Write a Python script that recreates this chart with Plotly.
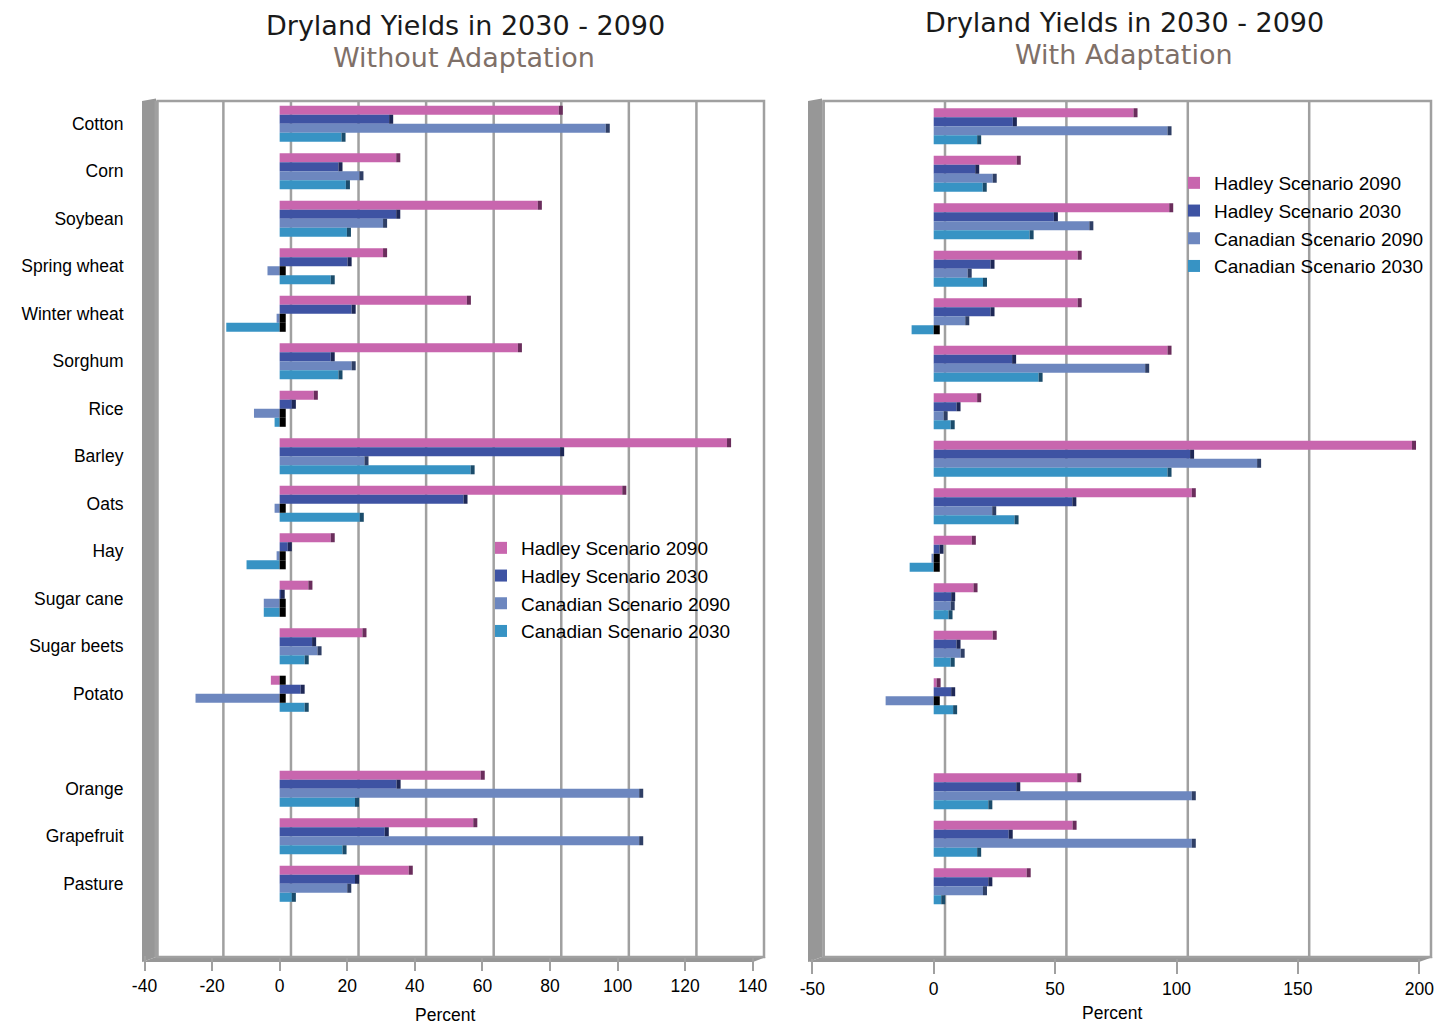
import plotly.graph_objects as go

# ---- data -------------------------------------------------------------
crops = ["Cotton", "Corn", "Soybean", "Spring wheat", "Winter wheat", "Sorghum",
         "Rice", "Barley", "Oats", "Hay", "Sugar cane", "Sugar beets", "Potato",
         "Orange", "Grapefruit", "Pasture"]

series_names = ["Hadley Scenario 2090", "Hadley Scenario 2030",
                "Canadian Scenario 2090", "Canadian Scenario 2030"]

# percent change in dryland yields, without adaptation
hadley_2090_without = [82.6, 34.5, 76.4, 30.6, 55.4, 70.5, 10.1, 132.4, 101.4, 15.1, 8.5, 24.5, -2.6, 59.5, 57.3, 38.2]
hadley_2030_without = [32.4, 17.4, 34.5, 20.1, 21.3, 15.1, 3.6, 83.0, 54.4, 2.4, 0.3, 9.6, 6.2, 34.6, 31.1, 22.3]
canadian_2090_without = [96.5, 23.6, 30.6, -3.6, -0.9, 21.3, -7.6, 25.1, -1.5, -0.9, -4.7, 11.2, -24.9, 106.4, 106.4, 20.0]
canadian_2030_without = [18.3, 19.6, 19.9, 15.1, -15.8, 17.4, -1.5, 56.5, 23.7, -9.8, -4.7, 7.4, 7.4, 22.3, 18.6, 3.6]

# percent change in dryland yields, with adaptation
hadley_2090_with = [82.3, 34.2, 97.0, 59.3, 59.3, 96.3, 17.9, 197.0, 106.3, 15.7, 16.4, 24.3, 1.2, 59.1, 57.2, 38.3]
hadley_2030_with = [32.6, 17.1, 49.5, 23.4, 23.4, 32.3, 9.4, 105.6, 57.1, 2.4, 7.2, 9.4, 7.2, 34.0, 30.9, 22.5]
canadian_2090_with = [96.3, 24.3, 64.1, 14.0, 13.0, 87.1, 4.1, 133.2, 24.1, -0.9, 7.0, 11.1, -19.8, 106.3, 106.3, 20.3]
canadian_2030_with = [17.9, 20.2, 39.5, 20.3, -9.1, 43.2, 7.0, 96.3, 33.3, -9.9, 6.1, 7.0, 8.0, 22.5, 17.9, 3.1]

left_ticks = [-40, -20, 0, 20, 40, 60, 80, 100, 120, 140]
right_ticks = [-50, 0, 50, 100, 150, 200]

# ---- styling ----------------------------------------------------------
W, H = 1440, 1025
face_colors = ["#C866AE", "#3E53A3", "#6D87BF", "#3793C4"]
side_colors = ["#6A2D5C", "#1E2856", "#2F3F66", "#1B4C6B"]
GRAY = "#A0A0A0"
WALL = "#979797"
LABEL_FONT = dict(family="Liberation Sans, Arial, sans-serif", size=17.5, color="#000000")
LEGEND_FONT = dict(family="Liberation Sans, Arial, sans-serif", size=19, color="#000000")


def fx(px):
    return px / W


def fy(py):
    return 1 - py / H


# an empty slot after Potato and one at the bottom of the category axis
slots = crops[:13] + [" "] + crops[13:] + ["  "]


def pad(values, fill=None):
    v = list(values)
    return v[:13] + [fill] + v[13:] + [fill]


fig = go.Figure()

panels = [
    dict(key="l", xa="x", ya="y", legend="legend", cap_pos=1.2, cap_neg=1.8,
         series=[hadley_2090_without, hadley_2030_without, canadian_2090_without, canadian_2030_without]),
    dict(key="r", xa="x2", ya="y2", legend="legend2", cap_pos=1.65, cap_neg=2.5,
         series=[hadley_2090_with, hadley_2030_with, canadian_2090_with, canadian_2030_with]),
]

for p in panels:
    # front faces of the bars
    for i, (name, vals) in enumerate(zip(series_names, p["series"])):
        fig.add_trace(go.Bar(
            y=slots, x=pad(vals), orientation="h", name=name,
            marker=dict(color=face_colors[i], line=dict(width=0)),
            offsetgroup=f"{p['key']}{i}", xaxis=p["xa"], yaxis=p["ya"],
            legend=p["legend"], hoverinfo="skip",
        ))
    # shaded side faces at the end of each bar
    for i, vals in enumerate(p["series"]):
        base = [v if v > 0 else 0 for v in vals]
        width = [p["cap_pos"] if v > 0 else p["cap_neg"] for v in vals]
        cols = [side_colors[i] if v > 0 else "#000000" for v in vals]
        fig.add_trace(go.Bar(
            y=slots, x=pad(width), base=pad(base), orientation="h",
            marker=dict(color=pad(cols, "#FFFFFF"), line=dict(width=0)),
            offsetgroup=f"{p['key']}{i}", xaxis=p["xa"], yaxis=p["ya"],
            showlegend=False, hoverinfo="skip",
        ))

shapes = []


def poly(points, color):
    path = "M " + " L ".join(f"{fx(a)},{fy(b)}" for a, b in points) + " Z"
    return dict(type="path", path=path, xref="paper", yref="paper",
                fillcolor=color, line=dict(width=0), layer="below")


# chart boxes: side wall, floor, back frame and vertical grid on the back plane
boxes = [
    dict(wall_l=142, wall_r=156, front_r=753, back_r=764, xref="x",
         ticks=left_ticks, depth=11.3 / 3.379),
    dict(wall_l=808, wall_r=822, front_r=1419, back_r=1431, xref="x2",
         ticks=right_ticks, depth=11.3 / 2.428),
]
for b in boxes:
    shapes.append(poly([(b["wall_l"], 101), (b["wall_r"], 98.5), (b["wall_r"], 957),
                        (b["wall_l"], 962)], WALL))
    shapes.append(poly([(b["wall_l"], 962), (b["front_r"], 962), (b["back_r"] + 2, 957),
                        (b["wall_r"], 957)], WALL))
    for t in b["ticks"]:
        shapes.append(dict(type="line", xref=b["xref"], yref="paper",
                           x0=t + b["depth"], x1=t + b["depth"], y0=fy(957), y1=fy(101),
                           line=dict(color=GRAY, width=2.5), layer="below"))
    shapes.append(dict(type="rect", xref="paper", yref="paper",
                       x0=fx(b["wall_r"] + 1.5), x1=fx(b["back_r"]), y0=fy(957), y1=fy(101),
                       line=dict(color=GRAY, width=2.5), layer="below"))

axis_common = dict(showgrid=False, zeroline=False, showline=False, automargin=False)

fig.update_layout(
    width=W, height=H,
    margin=dict(l=0, r=0, t=0, b=0, autoexpand=False),
    paper_bgcolor="white", plot_bgcolor="rgba(0,0,0,0)",
    barmode="group", bargap=0.24, bargroupgap=0,
    hovermode=False,
    shapes=shapes,
    xaxis=dict(domain=[fx(144.5), fx(752.7)], range=[-40, 140], anchor="y",
               tickmode="array", tickvals=left_ticks, ticktext=[str(t) for t in left_ticks],
               ticks="outside", ticklen=15, tickwidth=2, tickcolor=GRAY,
               tickfont=LABEL_FONT, **axis_common),
    yaxis=dict(domain=[fy(955), fy(100)], range=[17.5, -0.5], anchor="x",
               type="category", categoryorder="array", categoryarray=slots,
               ticks="", ticklabelstandoff=20, tickfont=LABEL_FONT, **axis_common),
    xaxis2=dict(domain=[fx(812.3), fx(1419.3)], range=[-50, 200], anchor="y2",
                tickmode="array", tickvals=right_ticks, ticktext=[str(t) for t in right_ticks],
                ticks="outside", ticklen=15, tickwidth=2, tickcolor=GRAY,
                tickfont=LABEL_FONT, **axis_common),
    yaxis2=dict(domain=[fy(957.5), fy(102.5)], range=[17.5, -0.5], anchor="x2",
                type="category", categoryorder="array", categoryarray=slots,
                showticklabels=False, ticks="", **axis_common),
    legend=dict(x=fx(481), y=fy(529), xanchor="left", yanchor="top",
                bgcolor="rgba(0,0,0,0)", font=LEGEND_FONT),
    legend2=dict(x=fx(1174), y=fy(164), xanchor="left", yanchor="top",
                 bgcolor="rgba(0,0,0,0)", font=LEGEND_FONT),
)

TITLE_FONT = dict(family="DejaVu Sans, Verdana, sans-serif", size=27, color="#1A1A1A")
SUB_FONT = dict(family="DejaVu Sans, Verdana, sans-serif", size=27, color="#7F7068")

annotations = [
    dict(text="Dryland Yields in 2030 - 2090", x=fx(465), y=fy(25), font=TITLE_FONT),
    dict(text="Without Adaptation", x=fx(464), y=fy(57), font=SUB_FONT),
    dict(text="Dryland Yields in 2030 - 2090", x=fx(1124), y=fy(22), font=TITLE_FONT),
    dict(text="With Adaptation", x=fx(1124), y=fy(54), font=SUB_FONT),
    dict(text="Percent", x=fx(445), y=fy(1015), font=LABEL_FONT),
    dict(text="Percent", x=fx(1112), y=fy(1013), font=LABEL_FONT),
]
for a in annotations:
    fig.add_annotation(xref="paper", yref="paper", xanchor="center", yanchor="middle",
                       showarrow=False, **a)

fig.write_html("out.html")
